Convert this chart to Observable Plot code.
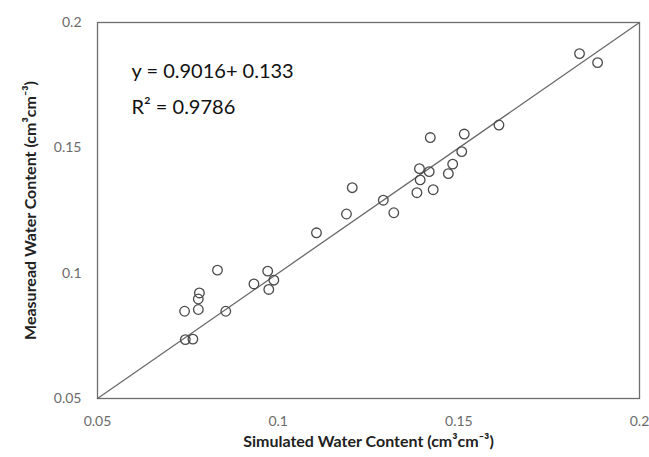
<!DOCTYPE html>
<html>
<head>
<meta charset="utf-8">
<script src="https://cdn.jsdelivr.net/npm/d3@7"></script>
<script src="https://cdn.jsdelivr.net/npm/@observablehq/plot@0.6"></script>
<style>
  html, body { margin: 0; padding: 0; background: #fff; }
  #chart svg { display: block; }
</style>
</head>
<body>
<div id="chart"></div>
<script>
const simulated = [0.1834, 0.1884, 0.0832, 0.0782, 0.0779, 0.0741, 0.0779, 0.0855, 0.0743, 0.0764,
                   0.1106, 0.0971, 0.0933, 0.0988, 0.0974, 0.1421, 0.1515, 0.1508, 0.1483, 0.1471,
                   0.1391, 0.1418, 0.1393, 0.1384, 0.1429, 0.1291, 0.1320, 0.1205, 0.1189, 0.1611];
const measured  = [0.1876, 0.1840, 0.1012, 0.0921, 0.0897, 0.0848, 0.0855, 0.0848, 0.0735, 0.0737,
                   0.1161, 0.1008, 0.0957, 0.0972, 0.0935, 0.1541, 0.1555, 0.1485, 0.1435, 0.1397,
                   0.1417, 0.1405, 0.1372, 0.1321, 0.1333, 0.1291, 0.1241, 0.1341, 0.1236, 0.1591];
const oneToOne = [0.05, 0.2];
const axisTicks = [0.05, 0.1, 0.15, 0.2];
const tickLabels = ["0.05", "0.1", "0.15", "0.2"];
const equationText = "y = 0.9016+ 0.133";
const r2Text = "R² = 0.9786";
const xTitle = "Simulated Water Content (cm³cm⁻³)";
const yTitle = "Measuread Water Content (cm³cm⁻³)";

const points = simulated.map((s, i) => ({s, m: measured[i]}));
const line = oneToOne.map(v => ({s: v, m: v}));
const fmt = d => tickLabels[axisTicks.indexOf(d)];

const chart = Plot.plot({
  width: 649,
  height: 457,
  marginLeft: 97,
  marginRight: 10,
  marginTop: 22,
  marginBottom: 59,
  style: {fontFamily: "Lato, 'Open Sans', sans-serif", background: "#fff"},
  x: {domain: [0.05, 0.2], ticks: axisTicks},
  y: {domain: [0.05, 0.2], ticks: axisTicks},
  marks: [
    Plot.frame({stroke: "#6e6e6e", strokeWidth: 1.3}),
    Plot.axisX({ticks: axisTicks, tickFormat: fmt, tickSize: 0, tickPadding: 18, fontSize: 14, color: "#6b6b6b",
      label: xTitle, labelAnchor: "center", labelArrow: "none", labelOffset: 48}),
    Plot.axisY({ticks: axisTicks, tickFormat: fmt, tickSize: 0, tickPadding: 16, fontSize: 14, color: "#6b6b6b",
      label: null}),
    Plot.text([yTitle], {frameAnchor: "left", dx: -67, rotate: -90, textAnchor: "middle", text: d => d, fontSize: 16, fontWeight: "bold", fill: "#222"}),
    Plot.line(line, {x: "s", y: "m", stroke: "#6a6a6a", strokeWidth: 1.3}),
    Plot.dot(points, {x: "s", y: "m", r: 4.8, stroke: "#4a4a4a", strokeWidth: 1.3, fill: "none"}),
    Plot.text([equationText], {frameAnchor: "top-left", dx: 34, dy: 41, text: d => d, fontSize: 20, fill: "#111"}),
    Plot.text([r2Text], {frameAnchor: "top-left", dx: 34, dy: 77, text: d => d, fontSize: 20, fill: "#111"})
  ]
});
document.getElementById("chart").appendChild(chart);
chart.querySelectorAll("g[aria-label='x-axis label'] text").forEach(t => {
  t.setAttribute("font-weight", "bold"); t.setAttribute("font-size", "16"); t.setAttribute("fill", "#222");
});
</script>
</body>
</html>
